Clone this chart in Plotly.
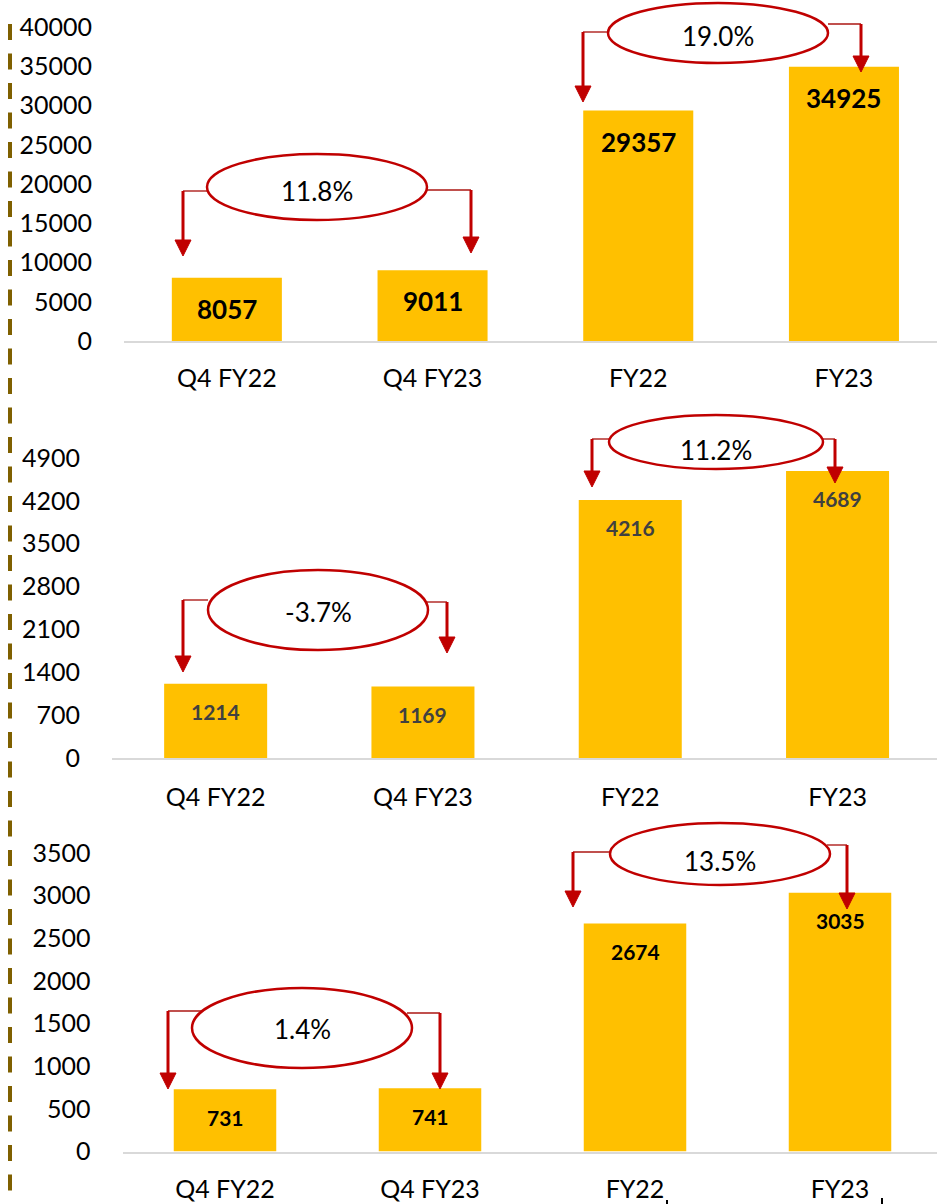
import plotly.graph_objects as go

# ---------------- data ----------------
categories = ["Q4 FY22", "Q4 FY23", "FY22", "FY23"]
values_1 = [8057, 9011, 29357, 34925]
values_2 = [1214, 1169, 4216, 4689]
values_3 = [731, 741, 2674, 3035]
growth_1 = ["11.8%", "19.0%"]
growth_2 = ["-3.7%", "11.2%"]
growth_3 = ["1.4%", "13.5%"]
ticks_1 = [0, 5000, 10000, 15000, 20000, 25000, 30000, 35000, 40000]
ticks_2 = [0, 700, 1400, 2100, 2800, 3500, 4200, 4900]
ticks_3 = [0, 500, 1000, 1500, 2000, 2500, 3000, 3500]

W, H = 937, 1204
FONT = "Lato"
BAR = "#FFC000"
RED = "#C00000"


def px(x):
    return x / W


def py(y):
    return 1 - y / H


# panel layout (pixel geometry)
panels = [
    dict(values=values_1, ticks=ticks_1, growth=growth_1, x0=124, cw=205.7,
         base=341, top=27, bw=0.535, lab_color="#000000", lab_size=26, lab_shift=-31,
         xticklen=14,
         ellipses=[(317, 187, 110, 33, 191), (718, 33, 110, 30, 36)],
         conns=[(208, 191, 183, 256), (426, 190, 471, 253),
                (608, 32, 583, 102), (828, 24, 861, 72)]),
    dict(values=values_2, ticks=ticks_2, growth=growth_2, x0=112, cw=207.3,
         base=758, top=458, bw=0.497, lab_color="#404040", lab_size=21, lab_shift=-28,
         xticklen=16,
         ellipses=[(318, 610, 110, 40, 612), (716, 442, 107, 27, 450)],
         conns=[(208, 600, 183, 672), (427, 602, 447, 653),
                (610, 439, 592, 487), (823, 439, 835, 483)]),
    dict(values=values_3, ticks=ticks_3, growth=growth_3, x0=122.5, cw=205,
         base=1151.5, top=853, bw=0.50, lab_color="#000000", lab_size=21, lab_shift=-28,
         xticklen=14,
         ellipses=[(302, 1028, 110, 40, 1029), (720, 854, 110, 31, 861)],
         conns=[(206, 1011, 168, 1089), (407, 1013, 440, 1089),
                (610, 852, 573, 907), (827, 845, 847, 909)]),
]

fig = go.Figure()
shapes = []
annotations = []

# dashed vertical divider at left
shapes.append(dict(type="line", xref="paper", yref="paper",
                   x0=px(10), x1=px(10), y0=py(24), y1=py(1204),
                   line=dict(color="#7F6000", width=4, dash="16px,13.5px")))

for i, p in enumerate(panels, start=1):
    xa = "x" if i == 1 else f"x{i}"
    ya = "y" if i == 1 else f"y{i}"
    fig.add_trace(go.Bar(x=categories, y=p["values"], xaxis=xa, yaxis=ya,
                         marker=dict(color=BAR, line=dict(width=0)),
                         width=p["bw"], showlegend=False, hoverinfo="x+y"))
    ymax = p["ticks"][-1]
    xr = [-0.5, -0.5 + (W - p["x0"]) / p["cw"]]
    key_x = "xaxis" if i == 1 else f"xaxis{i}"
    key_y = "yaxis" if i == 1 else f"yaxis{i}"
    fig.update_layout({
        key_x: dict(domain=[px(p["x0"]), 1.0], anchor=ya, range=xr,
                    type="category", showgrid=False, zeroline=False,
                    showline=True, linecolor="#D9D9D9", linewidth=2,
                    ticks="outside", ticklen=p["xticklen"], tickcolor="rgba(0,0,0,0)",
                    tickfont=dict(family=FONT, size=25, color="#000000"),
                    automargin=False, fixedrange=True),
        key_y: dict(domain=[py(p["base"]), py(p["top"])], anchor=xa,
                    range=[0, ymax], tickmode="array", tickvals=p["ticks"],
                    ticktext=[str(t) for t in p["ticks"]],
                    showgrid=False, zeroline=False, showline=False,
                    ticks="outside", ticklen=26, tickcolor="rgba(0,0,0,0)",
                    tickfont=dict(family=FONT, size=25, color="#000000"),
                    automargin=False, fixedrange=True),
    })
    # data labels
    for c, v in zip(categories, p["values"]):
        annotations.append(dict(xref=xa, yref=ya, x=c, y=v, text=f"<b>{v}</b>",
                                showarrow=False, yanchor="middle", yshift=p["lab_shift"],
                                font=dict(family=FONT, size=p["lab_size"], color=p["lab_color"])))
    # connectors with arrowheads
    for (xe, yh, xv, ytip) in p["conns"]:
        shapes.append(dict(type="path", xref="paper", yref="paper",
                           path=f"M {px(xe)},{py(yh)} L {px(xv)},{py(yh)}",
                           line=dict(color="#C0504D", width=1.8), layer="above"))
        shapes.append(dict(type="path", xref="paper", yref="paper",
                           path=f"M {px(xv)},{py(yh)} L {px(xv)},{py(ytip - 12)}",
                           line=dict(color=RED, width=3), layer="above"))
        shapes.append(dict(type="path", xref="paper", yref="paper",
                           path=(f"M {px(xv - 8)},{py(ytip - 16)} L {px(xv + 8)},{py(ytip - 16)} "
                                 f"L {px(xv)},{py(ytip)} Z"),
                           fillcolor=RED, line=dict(color=RED, width=1), layer="above"))
    # ellipses with growth text
    for (cx, cy, rx, ry, ty), g in zip(p["ellipses"], p["growth"]):
        shapes.append(dict(type="circle", xref="paper", yref="paper",
                           x0=px(cx - rx), x1=px(cx + rx), y0=py(cy + ry), y1=py(cy - ry),
                           fillcolor="#FFFFFF", line=dict(color=RED, width=2.5), layer="above"))
        annotations.append(dict(xref="paper", yref="paper", x=px(cx), y=py(ty), text=g,
                                showarrow=False, xanchor="center", yanchor="middle",
                                font=dict(family=FONT, size=26, color="#000000")))

# tiny marks near bottom labels
for xm, ym in [(667, 1200), (882, 1198)]:
    shapes.append(dict(type="line", xref="paper", yref="paper",
                       x0=px(xm), x1=px(xm), y0=py(ym), y1=py(1204),
                       line=dict(color="#000000", width=2)))

fig.update_layout(width=W, height=H, margin=dict(l=0, r=0, t=0, b=0, autoexpand=False),
                  paper_bgcolor="#FFFFFF", plot_bgcolor="#FFFFFF",
                  shapes=shapes, annotations=annotations, showlegend=False,
                  font=dict(family=FONT))

fig.write_html("out.html", config={"displayModeBar": False},
               post_script="document.body.style.margin='0';document.body.style.overflow='hidden';")
